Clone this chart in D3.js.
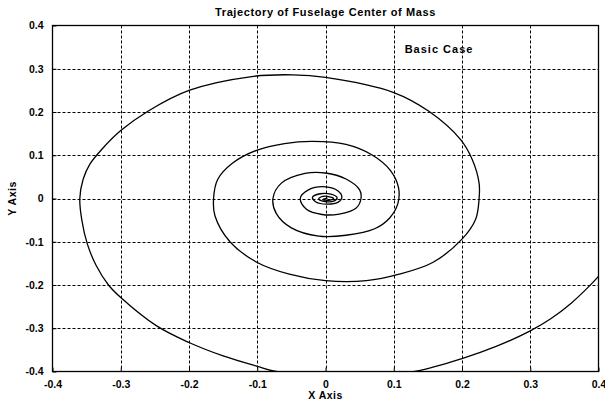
<!DOCTYPE html>
<html>
<head>
<meta charset="utf-8">
<script src="https://cdn.jsdelivr.net/npm/d3@7"></script>
<style>
  body { margin: 0; background: #fff; }
  svg { display: block; }
  text { font-family: "Liberation Sans", Arial, Helvetica, sans-serif; font-weight: bold; fill: #000; }
</style>
</head>
<body>
<svg id="chart" width="605" height="402"></svg>
<script>
// Axis ticks (same set on both axes)
const xTicks = [-0.4, -0.3, -0.2, -0.1, 0, 0.1, 0.2, 0.3, 0.4];
const yTicks = [-0.4, -0.3, -0.2, -0.1, 0, 0.1, 0.2, 0.3, 0.4];
const xTickLabels = ["-0.4", "-0.3", "-0.2", "-0.1", "0", "0.1", "0.2", "0.3", "0.4"];
const yTickLabels = ["-0.4", "-0.3", "-0.2", "-0.1", "0", "0.1", "0.2", "0.3", "0.4"];

// Fuselage centre-of-mass trajectory, in time order (spirals in toward the origin)
const trajX = [
  0.400, 0.385, 0.360, 0.330, 0.300, 0.250, 0.200, 0.133, 0.060, 0.020, -0.030, -0.072, -0.100,
  -0.150, -0.200, -0.248, -0.300, -0.318, -0.336, -0.349, -0.357, -0.360, -0.355, -0.345, -0.327,
  -0.300, -0.259, -0.200, -0.108, -0.048, 0.000, 0.100, 0.152, 0.198, 0.215, 0.225, 0.225,
  0.220, 0.200, 0.157, 0.108, 0.060, 0.000, -0.053, -0.100, -0.140, -0.162, -0.164, -0.158,
  -0.136, -0.100, -0.060, -0.019, 0.030, 0.069, 0.095, 0.107, 0.106, 0.094, 0.072, 0.030, -0.010,
  -0.050, -0.072, -0.077, -0.065, -0.030, 0.000, 0.030, 0.050, 0.052, 0.045, 0.020, -0.005,
  -0.028, -0.037, -0.025, 0.000, 0.018, 0.024, 0.018, 0.002, -0.014, -0.019, -0.008, 0.008,
  0.017, 0.012, 0.000, -0.010, -0.006, 0.006, 0.012, 0.005, -0.004, 0.003
];
const trajY = [
  -0.180, -0.205, -0.242, -0.278, -0.306, -0.342, -0.370, -0.399, -0.412, -0.415, -0.410, -0.400, -0.388,
  -0.364, -0.333, -0.294, -0.229, -0.200, -0.155, -0.105, -0.050, 0.000, 0.045, 0.080, 0.115,
  0.157, 0.203, 0.250, 0.282, 0.286, 0.280, 0.245, 0.201, 0.136, 0.090, 0.036, -0.002,
  -0.048, -0.094, -0.148, -0.175, -0.190, -0.190, -0.175, -0.148, -0.100, -0.040, 0.000, 0.044,
  0.082, 0.112, 0.127, 0.132, 0.125, 0.100, 0.065, 0.025, -0.012, -0.045, -0.070, -0.085, -0.087,
  -0.068, -0.035, 0.000, 0.035, 0.058, 0.059, 0.045, 0.020, 0.000, -0.022, -0.036, -0.037,
  -0.025, 0.000, 0.020, 0.027, 0.018, 0.003, -0.009, -0.013, -0.008, 0.003, 0.011, 0.010,
  0.002, -0.006, -0.007, -0.002, 0.004, 0.004, 0.000, -0.004, -0.002, 0.001
];

const titleText = "Trajectory of Fuselage Center of Mass";
const caseText = "Basic Case";
const xLabelText = "X Axis";
const yLabelText = "Y Axis";

const svg = d3.select("#chart");
const plot = { left: 52.5, right: 598.5, top: 25.5, bottom: 371.5 };

const x = d3.scaleLinear().domain([-0.4, 0.4]).range([plot.left, plot.right]);
const y = d3.scaleLinear().domain([-0.4, 0.4]).range([plot.bottom, plot.top]);

// dotted grid
const grid = svg.append("g").attr("stroke", "#000").attr("stroke-width", 1)
  .attr("stroke-dasharray", "3,2").attr("fill", "none");
grid.selectAll("line.v").data(xTicks.slice(1, -1)).join("line")
  .attr("class", "v")
  .attr("x1", d => Math.round(x(d)) + 0.5).attr("x2", d => Math.round(x(d)) + 0.5)
  .attr("y1", plot.top).attr("y2", plot.bottom);
grid.selectAll("line.h").data(yTicks.slice(1, -1)).join("line")
  .attr("class", "h")
  .attr("y1", d => Math.round(y(d)) + 0.5).attr("y2", d => Math.round(y(d)) + 0.5)
  .attr("x1", plot.left).attr("x2", plot.right);

// trajectory, clipped to the axes box
svg.append("clipPath").attr("id", "plotClip")
  .append("rect")
  .attr("x", plot.left).attr("y", plot.top)
  .attr("width", plot.right - plot.left).attr("height", plot.bottom - plot.top);

const pts = trajX.map((v, i) => [v, trajY[i]]);
const line = d3.line().x(d => x(d[0])).y(d => y(d[1])).curve(d3.curveCatmullRom.alpha(0.5));
svg.append("path")
  .attr("clip-path", "url(#plotClip)")
  .attr("d", line(pts))
  .attr("fill", "none").attr("stroke", "#000").attr("stroke-width", 1.3)
  .attr("stroke-linejoin", "round");

// axes with inward ticks
const xAxis = d3.axisBottom(x).tickValues(xTicks)
  .tickFormat((d, i) => xTickLabels[i]).tickSizeInner(-4).tickSizeOuter(0).tickPadding(9);
const yAxis = d3.axisLeft(y).tickValues(yTicks)
  .tickFormat((d, i) => yTickLabels[i]).tickSizeInner(-4).tickSizeOuter(0).tickPadding(9);

const gx = svg.append("g").attr("transform", `translate(0,${plot.bottom})`).call(xAxis);
const gy = svg.append("g").attr("transform", `translate(${plot.left},0)`).call(yAxis);
[gx, gy].forEach(g => {
  g.select(".domain").remove();
  g.selectAll(".tick line").attr("stroke", "#000");
  g.selectAll(".tick text").attr("font-size", 10.5).attr("font-weight", "bold")
    .attr("font-family", "'Liberation Sans', Arial, sans-serif").attr("fill", "#000");
});

// axes box
svg.append("rect")
  .attr("x", plot.left).attr("y", plot.top)
  .attr("width", plot.right - plot.left).attr("height", plot.bottom - plot.top)
  .attr("fill", "none").attr("stroke", "#000").attr("stroke-width", 1.3);

// titles and annotations
svg.append("text").attr("x", (plot.left + plot.right) / 2).attr("y", 16)
  .attr("text-anchor", "middle").attr("font-size", 11).attr("letter-spacing", 0.6)
  .text(titleText);
svg.append("text").attr("x", x(0.116)).attr("y", y(0.337))
  .attr("font-size", 11).attr("letter-spacing", 1).text(caseText);
svg.append("text").attr("x", (plot.left + plot.right) / 2).attr("y", 399)
  .attr("text-anchor", "middle").attr("font-size", 10.5).attr("letter-spacing", 0.5).text(xLabelText);
svg.append("text")
  .attr("transform", `translate(16,${(plot.top + plot.bottom) / 2}) rotate(-90)`)
  .attr("text-anchor", "middle").attr("font-size", 10.5).attr("letter-spacing", 0.5).text(yLabelText);
</script>
</body>
</html>
